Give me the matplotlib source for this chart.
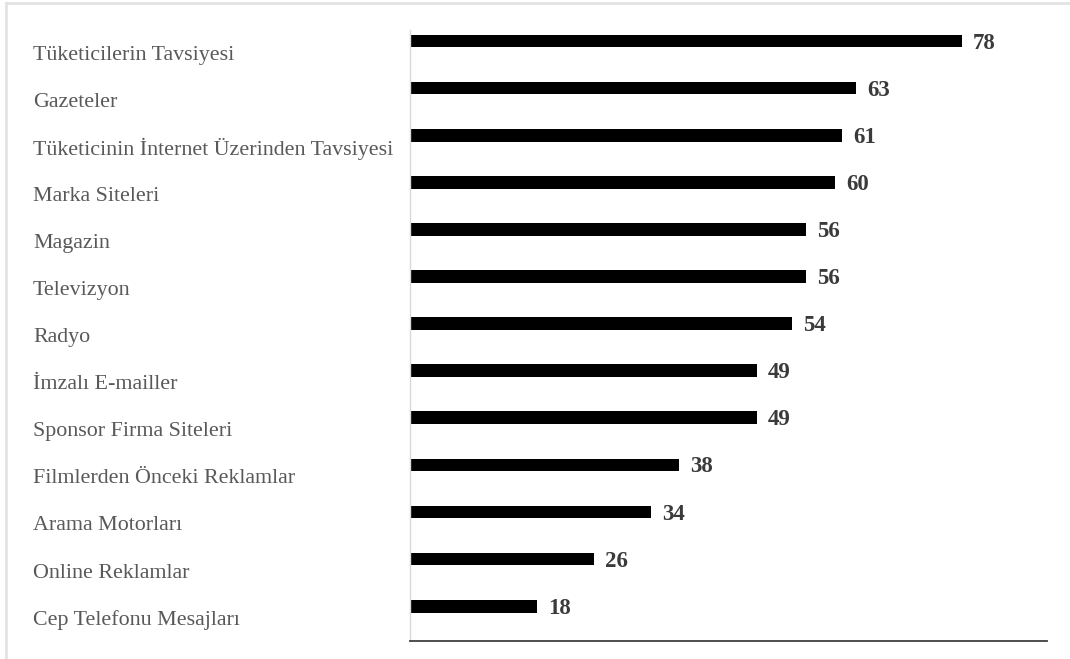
import matplotlib.pyplot as plt
from matplotlib import transforms
from matplotlib.lines import Line2D

plt.rcParams['font.family'] = ['Liberation Serif', 'DejaVu Serif']

categories = [
    'Tüketicilerin Tavsiyesi',
    'Gazeteler',
    'Tüketicinin İnternet Üzerinden Tavsiyesi',
    'Marka Siteleri',
    'Magazin',
    'Televizyon',
    'Radyo',
    'İmzalı E-mailler',
    'Sponsor Firma Siteleri',
    'Filmlerden Önceki Reklamlar',
    'Arama Motorları',
    'Online Reklamlar',
    'Cep Telefonu Mesajları',
]
values = [78, 63, 61, 60, 56, 56, 54, 49, 49, 38, 34, 26, 18]

W, H = 1070, 659
fig = plt.figure(figsize=(W / 100, H / 100), dpi=100)
ax = fig.add_axes([410 / W, 1 - 641 / H, (1047 - 410) / W, (641 - 30) / H])

pos = list(range(len(categories)))
ax.barh(pos, values, height=0.27, color='black')
ax.set_xlim(0, 90)
ax.set_ylim(12.74, -0.234)

ax.set_xticks([])
ax.set_yticks([])
for side in ['top', 'right']:
    ax.spines[side].set_visible(False)
ax.spines['left'].set_color('#d9d9d9')
ax.spines['left'].set_linewidth(1.0)
ax.spines['bottom'].set_color('#404040')
ax.spines['bottom'].set_linewidth(1.3)

# value labels at bar ends
for p, v in zip(pos, values):
    ax.annotate(str(v), (v, p), xytext=(8, -1.5), textcoords='offset points',
                ha='left', va='center', fontsize=16.5, fontweight='bold',
                color='#3a3a3a')

# category labels sit a bit lower than their bars
trans = transforms.blended_transform_factory(fig.transFigure, ax.transData)
trans = trans + transforms.ScaledTranslation(0, -0.14, fig.dpi_scale_trans)
for p, c in zip(pos, categories):
    ax.text(33 / W, p, c, transform=trans, ha='left', va='center',
            fontsize=15.8, color='#595959', clip_on=False)

# light frame around the figure
fig.add_artist(Line2D([6 / W, 6 / W], [0, 1 - 3 / H], transform=fig.transFigure,
                      color='#e3e3e3', linewidth=2))
fig.add_artist(Line2D([6 / W, 1], [1 - 3 / H, 1 - 3 / H], transform=fig.transFigure,
                      color='#e3e3e3', linewidth=2))

fig.savefig('out.png', dpi=100)
